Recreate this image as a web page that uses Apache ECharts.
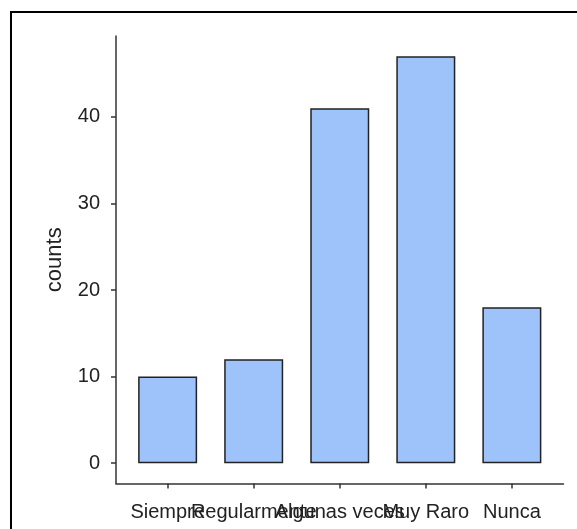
<!DOCTYPE html>
<html>
<head>
<meta charset="utf-8">
<script src="https://cdn.jsdelivr.net/npm/echarts@6/dist/echarts.min.js"></script>
<style>
html,body{margin:0;padding:0;background:#fff;}
#chart{width:577px;height:529px;}
</style>
</head>
<body>
<div id="chart"></div>
<script>
const categories = ["Siempre", "Regularmente", "Algunas veces", "Muy Raro", "Nunca"];
const counts = [10, 12, 41, 47, 18];
const yTicks = [0, 10, 20, 30, 40];
const yTitle = "counts";

const PAD = 0.6;
const xMin = -PAD;
const xMax = categories.length - 1 + PAD;
const catIndex = categories.map((c, i) => i);
// empty guard labels at the axis ends so no real label is auto-hidden
const labelValues = [xMin].concat(catIndex, [xMax]);
const barData = counts.map((v, i) => [i, v]);
const FONT = "'Liberation Sans', Arial, sans-serif";

const chart = echarts.init(document.getElementById('chart'), null, {renderer: 'canvas'});
chart.setOption({
  animation: false,
  backgroundColor: '#ffffff',
  graphic: [{
    type: 'rect',
    shape: {x: 11, y: 12, width: 800, height: 800},
    style: {fill: 'none', stroke: '#000', lineWidth: 2},
    silent: true
  }],
  grid: {left: 116, right: 13.5, top: 36, bottom: 45.5, containLabel: false},
  xAxis: {
    type: 'value',
    min: xMin,
    max: xMax,
    splitLine: {show: false},
    axisLine: {show: true, onZero: false, lineStyle: {color: '#333', width: 1.5}},
    axisTick: {show: true, length: 5, customValues: catIndex, lineStyle: {color: '#333', width: 1.5}},
    axisLabel: {
      customValues: labelValues,
      formatter: v => (Math.abs(v - Math.round(v)) < 1e-6 ? (categories[Math.round(v)] || '') : ''),
      color: '#222', fontSize: 20, fontFamily: FONT, margin: 19,
      hideOverlap: false
    }
  },
  yAxis: {
    type: 'value',
    min: -2.35,
    max: 49.35,
    name: yTitle,
    nameLocation: 'middle',
    nameGap: 50,
    nameTextStyle: {color: '#222', fontSize: 22, fontFamily: FONT},
    splitLine: {show: false},
    axisLine: {show: true, onZero: false, lineStyle: {color: '#333', width: 1.5}},
    axisTick: {show: true, length: 5, customValues: yTicks, lineStyle: {color: '#333', width: 1.5}},
    axisLabel: {
      customValues: yTicks, color: '#222', fontSize: 20, fontFamily: FONT, margin: 16,
      padding: [5, 0, 0, 0], showMinLabel: true, showMaxLabel: true
    }
  },
  series: [{
    type: 'bar',
    data: barData,
    barWidth: 59,
    itemStyle: {color: '#9ec3fa', borderColor: '#222', borderWidth: 1.5}
  }]
});
</script>
</body>
</html>
